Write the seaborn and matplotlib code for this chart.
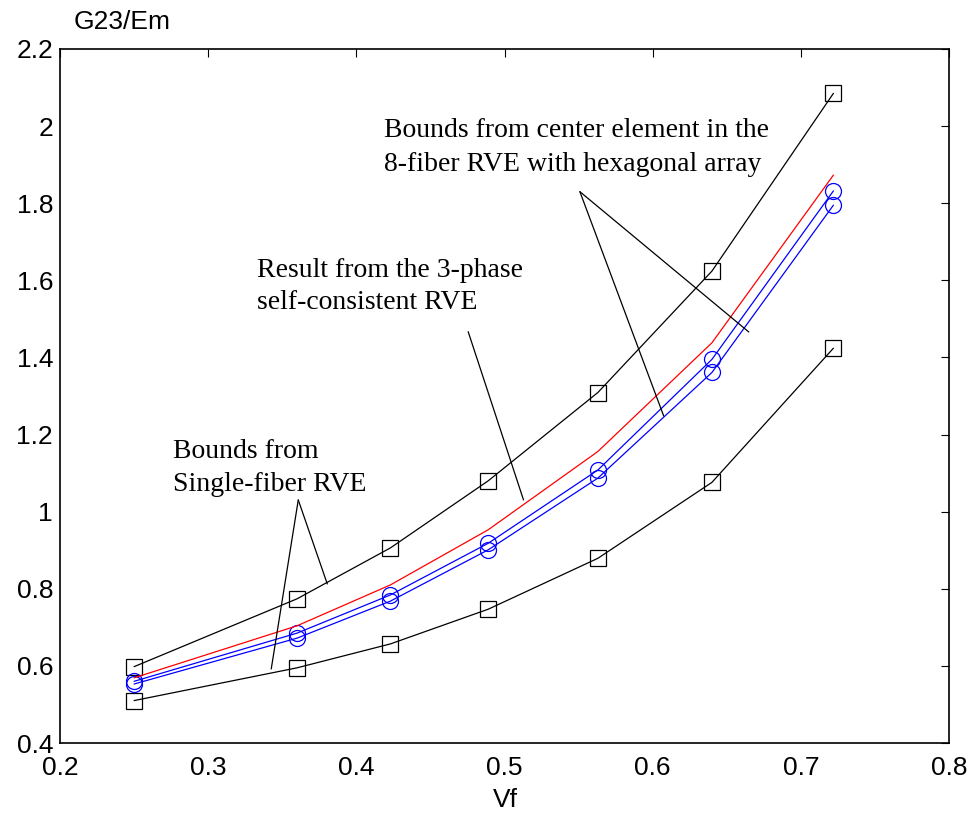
import matplotlib
matplotlib.use("Agg")
import matplotlib.pyplot as plt
import seaborn as sns
import pandas as pd

# ---- data ----
vf = [0.25, 0.36, 0.423, 0.489, 0.563, 0.64, 0.722]
upper_bound_8fiber = [0.598, 0.774, 0.906, 1.080, 1.309, 1.624, 2.085]
lower_bound_8fiber = [0.510, 0.595, 0.657, 0.747, 0.879, 1.076, 1.424]
upper_bound_single = [0.560, 0.685, 0.784, 0.918, 1.108, 1.395, 1.832]
lower_bound_single = [0.553, 0.672, 0.768, 0.901, 1.087, 1.361, 1.795]
self_consistent = [0.569, 0.704, 0.810, 0.953, 1.156, 1.438, 1.873]

x_ticks = [0.2, 0.3, 0.4, 0.5, 0.6, 0.7, 0.8]
y_ticks = [0.4, 0.6, 0.8, 1.0, 1.2, 1.4, 1.6, 1.8, 2.0, 2.2]
x_tick_labels = ["0.2", "0.3", "0.4", "0.5", "0.6", "0.7", "0.8"]
y_tick_labels = ["0.4", "0.6", "0.8", "1", "1.2", "1.4", "1.6", "1.8", "2", "2.2"]

sns.set_theme(style="white")
plt.rcParams["font.family"] = ["Liberation Sans", "DejaVu Sans"]
plt.rcParams["text.color"] = "black"
plt.rcParams["axes.labelcolor"] = "black"

fig = plt.figure(figsize=(9.72, 8.21), dpi=100)
ax = fig.add_axes([60 / 972, 78 / 821, 889 / 972, 694 / 821])

df = pd.DataFrame({
    "Vf": vf,
    "upper8": upper_bound_8fiber,
    "lower8": lower_bound_8fiber,
    "upper1": upper_bound_single,
    "lower1": lower_bound_single,
    "sc": self_consistent,
})

lw = 0.9
ms = 11.5
for col in ["upper8", "lower8"]:
    sns.lineplot(data=df, x="Vf", y=col, ax=ax, color="black", linewidth=lw,
                 marker="s", markersize=ms, markerfacecolor="none",
                 markeredgecolor="black", markeredgewidth=0.9, sort=False)
for col in ["upper1", "lower1"]:
    sns.lineplot(data=df, x="Vf", y=col, ax=ax, color="#0000ff", linewidth=lw,
                 marker="o", markersize=ms, markerfacecolor="none",
                 markeredgecolor="#0000ff", markeredgewidth=0.9, sort=False)
sns.lineplot(data=df, x="Vf", y="sc", ax=ax, color="#ff0000", linewidth=lw, sort=False)

ax.set_xlim(0.2, 0.8)
ax.set_ylim(0.4, 2.2)
ax.set_xticks(x_ticks)
ax.set_xticklabels(x_tick_labels)
ax.set_yticks(y_ticks)
ax.set_yticklabels(y_tick_labels)
ax.tick_params(direction="in", top=True, right=True, length=6, width=0.8,
               labelsize=19, colors="black")
ax.tick_params(axis="x", pad=9)
ax.tick_params(axis="y", pad=5)
for s in ax.spines.values():
    s.set_visible(True)
    s.set_color("black")
    s.set_linewidth(1.2)
ax.grid(False)

ax.set_xlabel("Vf", fontsize=19, color="black")
ax.xaxis.set_label_coords(0.5006, -0.082)
ax.xaxis.label.set_va("center")
ax.set_ylabel("G23/Em", fontsize=19, rotation=0, ha="left", va="baseline", color="black")
ax.yaxis.set_label_coords(0.0157, 1.029)

# ---- annotations (Times-like serif) ----
serif = ["Liberation Serif", "DejaVu Serif"]
fs = 20


def px2d(px, py):
    return 0.2 + (px - 60) / 1480, 2.2 - (py - 49) / 385.6


def put(text, px, py):
    x, y = px2d(px, py)
    ax.text(x, y, text, fontsize=fs, family=serif, ha="left", va="baseline", color="black")


def seg(p0, p1):
    x0, y0 = px2d(*p0)
    x1, y1 = px2d(*p1)
    ax.plot([x0, x1], [y0, y1], color="black", linewidth=0.9)


put("Bounds from center element in the", 383.3, 136.7)
put("8-fiber RVE with hexagonal array", 383.3, 171)
put("Result from the 3-phase", 256.7, 276.7)
put("self-consistent RVE", 256.7, 309.3)
put("Bounds from", 173.3, 458)
put("Single-fiber RVE", 173.3, 490.7)

seg((579.3, 191.7), (663, 416))
seg((579.3, 191.7), (748, 332))
seg((467.7, 331.7), (523, 500))
seg((298, 500), (327, 584))
seg((298, 500), (271, 669))

fig.savefig("out.png", dpi=100, facecolor="white")
